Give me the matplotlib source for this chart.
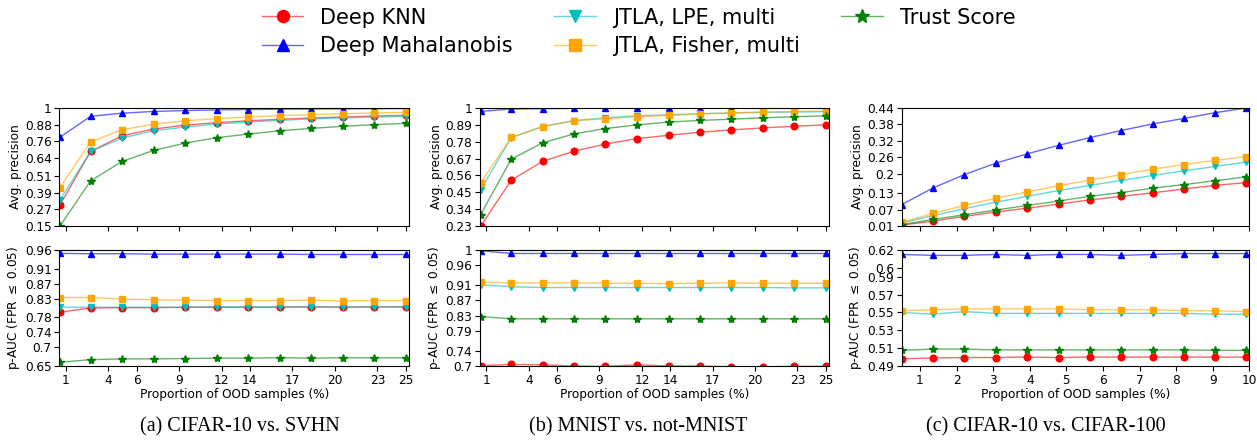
import matplotlib
matplotlib.use("Agg")
import matplotlib.pyplot as plt
from matplotlib.colors import to_rgba

# x positions (proportion of OOD samples, %)
x_ab = [0.6, 2.76, 4.98, 7.2, 9.42, 11.65, 13.88, 16.1, 18.32, 20.54, 22.77, 25.0]
x_c = [0.5, 1.36, 2.21, 3.07, 3.93, 4.79, 5.64, 6.5, 7.36, 8.21, 9.07, 9.91]
xticks_ab = [1, 4, 6, 9, 12, 14, 17, 20, 23, 25]
xticks_c = [1, 2, 3, 4, 5, 6, 7, 8, 9, 10]

methods = ["Deep KNN", "Deep Mahalanobis", "JTLA, LPE, multi",
           "JTLA, Fisher, multi", "Trust Score"]
colors = ["red", "blue", "c", "orange", "green"]
markers = ["o", "^", "v", "s", "*"]

# rows: Deep KNN, Deep Mahalanobis, JTLA LPE, JTLA Fisher, Trust Score
ap_cifar_svhn = [
    [0.302, 0.687, 0.800, 0.848, 0.877, 0.894, 0.908, 0.918, 0.928, 0.935, 0.942, 0.947],
    [0.790, 0.940, 0.963, 0.975, 0.982, 0.986, 0.989, 0.991, 0.993, 0.994, 0.995, 0.996],
    [0.338, 0.687, 0.783, 0.836, 0.863, 0.884, 0.899, 0.911, 0.921, 0.928, 0.935, 0.940],
    [0.427, 0.757, 0.843, 0.884, 0.908, 0.923, 0.935, 0.945, 0.952, 0.959, 0.964, 0.969],
    [0.150, 0.475, 0.615, 0.694, 0.747, 0.786, 0.812, 0.836, 0.853, 0.868, 0.880, 0.889],
]
pauc_cifar_svhn = [
    [0.794, 0.805, 0.806, 0.806, 0.807, 0.807, 0.807, 0.807, 0.808, 0.807, 0.808, 0.808],
    [0.951, 0.950, 0.950, 0.949, 0.949, 0.949, 0.949, 0.949, 0.948, 0.948, 0.948, 0.948],
    [0.807, 0.807, 0.807, 0.807, 0.807, 0.808, 0.808, 0.808, 0.808, 0.808, 0.808, 0.808],
    [0.833, 0.833, 0.829, 0.827, 0.826, 0.825, 0.825, 0.825, 0.826, 0.824, 0.825, 0.825],
    [0.660, 0.667, 0.669, 0.669, 0.670, 0.671, 0.671, 0.672, 0.671, 0.672, 0.672, 0.672],
]
ap_mnist = [
    [0.230, 0.529, 0.652, 0.718, 0.765, 0.800, 0.822, 0.842, 0.857, 0.870, 0.881, 0.890],
    [0.978, 0.993, 0.996, 0.998, 0.998, 0.999, 0.999, 0.999, 0.999, 0.999, 0.999, 0.999],
    [0.468, 0.806, 0.879, 0.918, 0.936, 0.949, 0.956, 0.963, 0.967, 0.971, 0.974, 0.976],
    [0.512, 0.809, 0.879, 0.916, 0.930, 0.943, 0.952, 0.960, 0.969, 0.974, 0.978, 0.980],
    [0.305, 0.666, 0.773, 0.831, 0.866, 0.890, 0.908, 0.919, 0.927, 0.936, 0.943, 0.949],
]
pauc_mnist = [
    [0.701, 0.704, 0.703, 0.700, 0.699, 0.703, 0.700, 0.700, 0.698, 0.698, 0.699, 0.699],
    [0.998, 0.991, 0.991, 0.991, 0.991, 0.991, 0.991, 0.991, 0.991, 0.991, 0.991, 0.991],
    [0.910, 0.905, 0.903, 0.903, 0.903, 0.903, 0.903, 0.903, 0.903, 0.903, 0.902, 0.902],
    [0.917, 0.915, 0.915, 0.915, 0.914, 0.914, 0.913, 0.914, 0.915, 0.914, 0.914, 0.914],
    [0.828, 0.822, 0.822, 0.822, 0.822, 0.822, 0.822, 0.822, 0.822, 0.822, 0.822, 0.822],
]
ap_cifar100 = [
    [0.013, 0.028, 0.045, 0.061, 0.075, 0.090, 0.105, 0.118, 0.131, 0.145, 0.158, 0.168],
    [0.088, 0.149, 0.197, 0.239, 0.273, 0.304, 0.332, 0.358, 0.382, 0.402, 0.423, 0.440],
    [0.021, 0.048, 0.073, 0.097, 0.118, 0.139, 0.158, 0.176, 0.194, 0.211, 0.227, 0.243],
    [0.023, 0.056, 0.085, 0.111, 0.134, 0.157, 0.177, 0.197, 0.217, 0.234, 0.249, 0.263],
    [0.015, 0.034, 0.051, 0.068, 0.085, 0.101, 0.118, 0.132, 0.148, 0.161, 0.175, 0.189],
]
pauc_cifar100 = [
    [0.498, 0.499, 0.4995, 0.4995, 0.500, 0.4995, 0.500, 0.500, 0.500, 0.500, 0.500, 0.500],
    [0.615, 0.614, 0.614, 0.615, 0.614, 0.615, 0.615, 0.614, 0.615, 0.616, 0.616, 0.616],
    [0.550, 0.548, 0.551, 0.549, 0.549, 0.549, 0.549, 0.549, 0.549, 0.549, 0.548, 0.548],
    [0.552, 0.553, 0.554, 0.554, 0.554, 0.554, 0.553, 0.553, 0.553, 0.552, 0.552, 0.551],
    [0.5075, 0.509, 0.509, 0.508, 0.508, 0.508, 0.508, 0.508, 0.508, 0.508, 0.5075, 0.5075],
]

yt_ap = [[0.15, 0.27, 0.39, 0.51, 0.64, 0.76, 0.88, 1],
         [0.23, 0.34, 0.45, 0.56, 0.67, 0.78, 0.89, 1],
         [0.01, 0.07, 0.13, 0.2, 0.26, 0.32, 0.38, 0.44]]
yt_pauc = [[0.65, 0.7, 0.74, 0.78, 0.83, 0.87, 0.91, 0.96],
           [0.7, 0.74, 0.79, 0.83, 0.87, 0.91, 0.96, 1],
           [0.49, 0.51, 0.53, 0.55, 0.57, 0.59, 0.6, 0.62]]

captions = ["(a) CIFAR-10 vs. SVHN", "(b) MNIST vs. not-MNIST", "(c) CIFAR-10 vs. CIFAR-100"]

panels = [
    (x_ab, xticks_ab, (0.55, 25.25), ap_cifar_svhn, pauc_cifar_svhn),
    (x_ab, xticks_ab, (0.55, 25.25), ap_mnist, pauc_mnist),
    (x_c, xticks_c, (0.5, 10.0), ap_cifar100, pauc_cifar100),
]

W, H = 1257, 440
fig = plt.figure(figsize=(W / 100, H / 100), dpi=100)
lefts = [59.3, 480, 901.7]
widths = [350, 349.3, 347.6]
caption_x = [240, 638, 1046]
tick_fs = 8.7


def draw(ax, x, rows, yt, xticks, xlim):
    for i in range(len(methods)):
        ms = 6 if markers[i] == "*" else 4.8
        ax.plot(x, rows[i], color=to_rgba(colors[i], 0.6), lw=1,
                marker=markers[i], ms=ms, mfc=colors[i], mec=colors[i],
                label=methods[i])
    ax.set_ylim(yt[0], yt[-1])
    ax.set_yticks(yt)
    ax.set_yticklabels([f"{v:g}" for v in yt])
    ax.set_xlim(*xlim)
    ax.set_xticks(xticks)
    ax.tick_params(labelsize=tick_fs, pad=2)


for k, (x, xt, xl, ap, pauc) in enumerate(panels):
    l = lefts[k] / W
    w = widths[k] / W
    ax1 = fig.add_axes([l, (H - 226) / H, w, 118 / H])
    ax2 = fig.add_axes([l, (H - 366) / H, w, 116 / H])
    draw(ax1, x, ap, yt_ap[k], xt, xl)
    draw(ax2, x, pauc, yt_pauc[k], xt, xl)
    ax1.set_xticklabels([])
    ax1.set_ylabel("Avg. precision", fontsize=tick_fs, labelpad=2)
    ax2.set_ylabel("p-AUC (FPR $\\leq$ 0.05)", fontsize=tick_fs, labelpad=2)
    ax2.set_xlabel("Proportion of OOD samples (%)", fontsize=tick_fs, labelpad=1)
    fig.text(caption_x[k] / W, (H - 427) / H, captions[k], ha="center", va="center",
             fontsize=14.5, family="Liberation Serif")
    if k == 0:
        handles, labels = ax1.get_legend_handles_labels()

fig.legend(handles, labels, loc="upper center", bbox_to_anchor=(0.508, 1.025),
           ncol=3, frameon=False, fontsize=15, markerscale=1.8, handlelength=2,
           handletextpad=0.8, columnspacing=2, labelspacing=0.4)

fig.savefig("out.png", dpi=100)
